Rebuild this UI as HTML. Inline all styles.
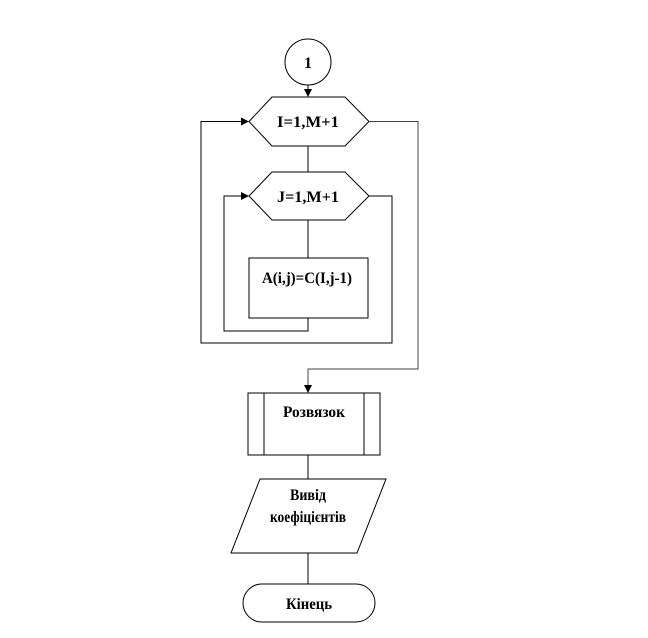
<!DOCTYPE html>
<html><head><meta charset="utf-8"><style>
html,body{margin:0;padding:0;background:#fff;}
svg{display:block;}
text{font-family:"Liberation Serif",serif;font-weight:bold;font-size:16px;fill:#000;}
</style></head><body>
<svg width="648" height="638" viewBox="0 0 648 638" xmlns="http://www.w3.org/2000/svg">
<defs><marker id="a" markerWidth="8" markerHeight="8" refX="7" refY="4" orient="auto" markerUnits="userSpaceOnUse"><path d="M0,0 L8,4 L0,8 z" fill="#000"/></marker></defs>
<g fill="none" stroke="#000" stroke-width="1">
<circle cx="308" cy="62" r="23"/>
<line x1="308" y1="85" x2="308" y2="96" marker-end="url(#a)"/>
<polygon points="249,121.5 272,97 345,97 369,121.5 345,146 272,146"/>
<line x1="308" y1="146" x2="308" y2="172"/>
<polygon points="249,196 272,172 345,172 369,196 345,220 272,220"/>
<line x1="308" y1="220" x2="308" y2="258"/>
<rect x="249" y="258" width="119" height="60"/>
<polyline points="308,318 308,331 224,331 224,196 248,196" marker-end="url(#a)"/>
<polyline points="369,196 392,196 392,343 201,343 201,121.5 248,121.5" marker-end="url(#a)"/>
<polyline points="369,121.5 418,121.5 418,369 308,369 308,392" stroke="#444" marker-end="url(#a)"/>
<rect x="248" y="393" width="132" height="62"/>
<line x1="264" y1="393" x2="264" y2="455"/>
<line x1="364" y1="393" x2="364" y2="455"/>
<line x1="308" y1="455" x2="308" y2="479"/>
<polygon points="260,479 386,479 357,553 231,553"/>
<line x1="308" y1="553" x2="308" y2="584"/>
<rect x="243" y="584" width="132" height="38" rx="19" ry="19"/>
</g>
<g text-anchor="middle">
<text x="308" y="68" font-size="18">1</text>
<text x="308" y="127" textLength="62" lengthAdjust="spacingAndGlyphs">I=1,M+1</text>
<text x="308" y="202" textLength="62" lengthAdjust="spacingAndGlyphs">J=1,M+1</text>
<text x="307" y="283" textLength="90" lengthAdjust="spacingAndGlyphs">A(i,j)=C(I,j-1)</text>
<text x="314" y="417" textLength="62" lengthAdjust="spacingAndGlyphs">Розвязок</text>
<text x="308" y="500" textLength="36" lengthAdjust="spacingAndGlyphs">Вивід</text>
<text x="308" y="522" textLength="76" lengthAdjust="spacingAndGlyphs">коефіцієнтів</text>
<text x="309" y="609" textLength="46" lengthAdjust="spacingAndGlyphs">Кінець</text>
</g>
</svg>
</body></html>
